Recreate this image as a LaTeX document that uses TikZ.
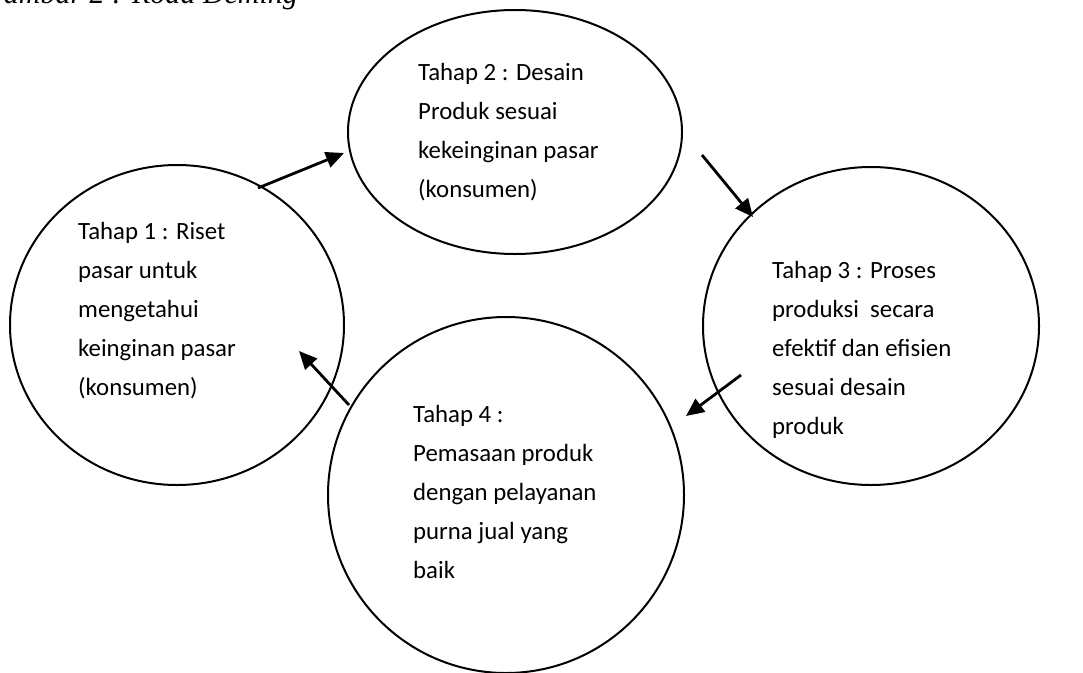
\documentclass[tikz,border=0pt]{standalone}
\usepackage{fontspec}
\setmainfont{Carlito}
\newfontfamily\capfont{Liberation Serif}
\usetikzlibrary{arrows.meta}
\begin{document}
\begin{tikzpicture}[x=1pt,y=-1pt,
  ell/.style={draw,line width=2pt},
  lbl/.style={anchor=west,align=left,inner sep=0pt,font=\fontsize{24.8}{39}\selectfont},
  arr/.style={line width=2.8pt,-{Triangle[length=18pt,width=16pt]}}]
\useasboundingbox (0,0) rectangle (1083,672);
\node[anchor=base west,inner sep=0pt,font=\capfont\fontsize{30}{32}\selectfont\itshape] (cap) at (-18,3) {Gambar 2 : Roda Deming};
\draw[ell] (177,325) ellipse [x radius=167, y radius=160];
\draw[ell] (515,132) ellipse [x radius=167, y radius=122];
\draw[ell] (871,326) ellipse [x radius=168, y radius=159];
\draw[ell] (506,495) ellipse [x radius=178, y radius=178];
\node[lbl] (t1) at (78,311) {Tahap 1 : Riset\\pasar untuk\\mengetahui\\keinginan pasar\\(konsumen)};
\node[lbl] (t2) at (418,132) {Tahap 2 : Desain\\Produk sesuai\\kekeinginan pasar\\(konsumen)};
\node[lbl] (t3) at (772,350) {Tahap 3 : Proses\\produksi\ \ secara\\efektif dan efisien\\sesuai desain\\produk};
\node[lbl] (t4) at (413,492) {Tahap 4 :\\Pemasaan produk\\dengan pelayanan\\purna jual yang\\baik};
\coordinate (a1s) at (258,188); \coordinate (a1e) at (344,153);
\coordinate (a2s) at (702,155); \coordinate (a2e) at (753,217);
\coordinate (a3s) at (741,375); \coordinate (a3e) at (686,416);
\coordinate (a4s) at (349,405); \coordinate (a4e) at (299,351);
\draw[arr] (a1s) -- (a1e);
\draw[arr] (a2s) -- (a2e);
\draw[arr] (a3s) -- (a3e);
\draw[arr] (a4s) -- (a4e);
\end{tikzpicture}
\end{document}
